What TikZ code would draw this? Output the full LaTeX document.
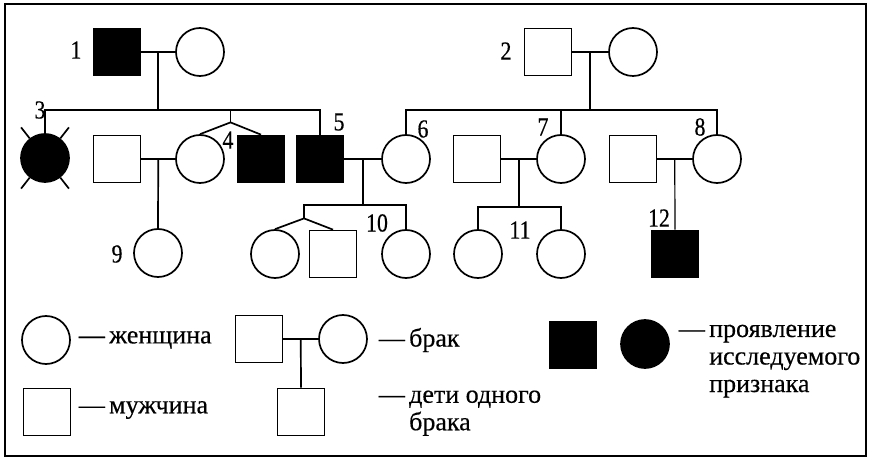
\documentclass[tikz,border=0pt]{standalone}
\usepackage{fontspec}
\setmainfont{Liberation Serif}
\newfontfamily\numfont{Liberation Serif}[FakeStretch=0.84,FakeBold=0.4]
\newfontfamily\legfont{Liberation Serif}[FakeBold=0.4]
\usetikzlibrary{calc}
\begin{document}
\begin{tikzpicture}[x=1pt,y=-1pt,line width=1.7pt,
	male/.style={draw,rectangle,minimum size=47pt,inner sep=0pt},
	female/.style={draw,circle,minimum size=48pt,inner sep=0pt},
	ill/.style={fill=black},
	num/.style={font=\numfont\fontsize{26}{26}\selectfont,inner sep=0pt},
	legtext/.style={font=\legfont\fontsize{26}{27.5}\selectfont,inner sep=0pt,anchor=west}]
	\useasboundingbox (0,0) rectangle (870,462);
	\draw[line width=1.2pt] (5,4) rectangle (866,456);
	
	% generation I
	\node[male,ill] (I1) at (117,52) {};
	\node[female] (I1w) at (200,52) {};
	\node[male] (I2) at (548,52) {};
	\node[female] (I2w) at (633,52) {};
	
	% generation II
	\node[female,ill] (II3) at (45,158) {};
	\node[male] (II3h) at (117,159) {};
	\node[female] (II4s) at (200,159) {};
	\node[male,ill] (II4) at (261,159) {};
	\node[male,ill] (II5) at (320,159) {};
	\node[female] (II6) at (406,159) {};
	\node[male] (II7h) at (477,159) {};
	\node[female] (II7) at (561,159) {};
	\node[male] (II8h) at (633,159) {};
	\node[female] (II8) at (717,159) {};
	\foreach \a in {52,128,232,308}
		\draw (II3.\a) -- ++(\a:14pt);
	
	% generation III
	\node[female] (III9) at (158,253) {};
	\node[female] (III10a) at (275,254) {};
	\node[male] (III10b) at (333,254) {};
	\node[female] (III10c) at (406,254) {};
	\node[female] (III11a) at (478,254) {};
	\node[female] (III11b) at (561,254) {};
	\node[male,ill] (III12) at (675,254) {};
	
	% marriages
	\draw (I1) -- (I1w);
	\draw (I2) -- (I2w);
	\draw (II3h) -- (II4s);
	\draw (II5) -- (II6);
	\draw (II7h) -- (II7);
	\draw (II8h) -- (II8);
	\coordinate (m1) at ($(I1.east)!.5!(I1w.west)$);
	\coordinate (m2) at ($(I2.east)!.5!(I2w.west)$);
	\coordinate (m3) at ($(II3h.east)!.5!(II4s.west)$);
	\coordinate (m4) at ($(II5.east)!.5!(II6.west)$);
	\coordinate (m5) at ($(II7h.east)!.5!(II7.west)$);
	\coordinate (m6) at ($(II8h.east)!.5!(II8.west)$);
	
	% children
	\draw (m1) -- ++(0,58) coordinate (s1);
	\draw (II3.north) |- (s1) -| (II5.north);
	\coordinate (t1) at ($(II4s.north)!.5!(II4.north)+(0,-12)$);
	\draw (II4s.north) -- (t1) -- (II4.north);
	\draw (t1) -- (t1 |- s1);
	
	\draw (m2) -- ++(0,58) coordinate (s2);
	\draw (II6.north) |- (s2) -| (II8.north);
	\draw (II7.north) -- (II7.north |- s2);
	
	\draw (m3) -- (III9.north);
	
	\draw (m4) -- ++(0,46) coordinate (s4);
	\coordinate (t2) at ($(III10a.north)!.5!(III10b.north)+(0,-11)$);
	\draw (t2) |- (s4) -| (III10c.north);
	\draw (III10a.north) -- (t2) -- (III10b.north);
	
	\draw (m5) -- ++(0,48) coordinate (s5);
	\draw (III11a.north) |- (s5) -| (III11b.north);
	
	\draw[line width=1.2pt] (m6) -- (III12.north);
	
	% numbers
	\node[num] (n1) at (76,50) {1};
	\node[num] (n2) at (506,51) {2};
	\node[num] (n3) at (40,110) {3};
	\node[num] (n4) at (228,140) {4};
	\node[num] (n5) at (339,122) {5};
	\node[num] (n6) at (423,129) {6};
	\node[num] (n7) at (543,127) {7};
	\node[num] (n8) at (700,127) {8};
	\node[num] (n9) at (117,254) {9};
	\node[num] (n10) at (377,223) {10};
	\node[num] (n11) at (520,230) {11};
	\node[num] (n12) at (659,218) {12};
	
	% legend
	\node[female] (Lf) at (46,340) {};
	\node[legtext] (Lft) at (78,340) {—\,женщина};
	\node[male] (Lm) at (47,412) {};
	\node[legtext] (Lmt) at (78,410) {—\,мужчина};
	\node[male] (Lh) at (259,339) {};
	\node[female] (Lw) at (343,339) {};
	\node[male] (Lc) at (301,412) {};
	\draw (Lh) -- (Lw);
	\coordinate (Lmid) at ($(Lh.east)!.5!(Lw.west)$);
	\draw (Lmid) -- (Lc.north);
	\node[legtext] (Lwt) at (378,340) {—\,брак};
	\node[legtext] (Lct) at (378,411) {\begin{tabular}{@{}l@{\,}l@{}}— & дети одного\\ & брака\end{tabular}};
	\node[male,ill] (La) at (573,345) {};
	\node[female,ill] (Lb) at (645,344) {};
	\node[legtext] (Lat) at (678,359) {\begin{tabular}{@{}l@{\,}l@{}}— & проявление\\ & исследуемого\\ & признака\end{tabular}};
\end{tikzpicture}
\end{document}
